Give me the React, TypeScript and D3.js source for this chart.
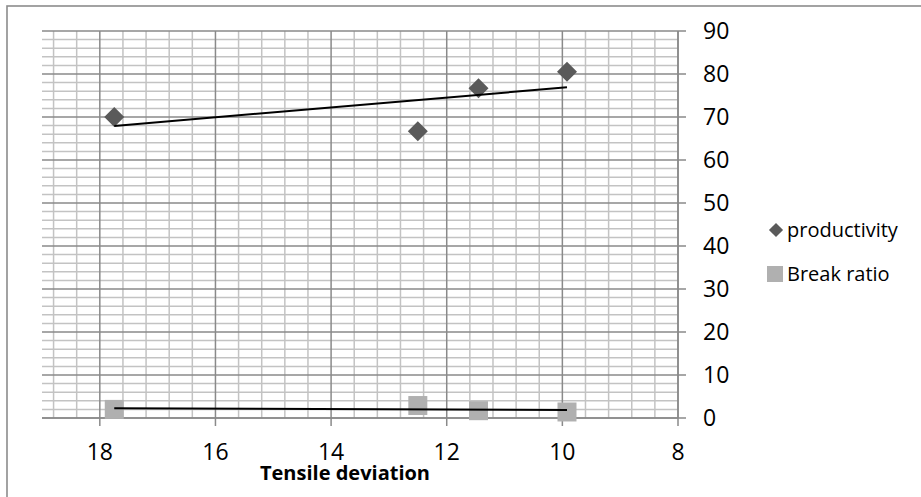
import React from "react";
import * as d3 from "d3";

const tensileDeviation = [17.75, 12.5, 11.45, 9.92];
const productivity = [70, 66.7, 76.7, 80.5];
const breakRatio = [2.0, 2.9, 1.7, 1.4];
const xTicks = [18, 16, 14, 12, 10, 8];
const yTicks = [0, 10, 20, 30, 40, 50, 60, 70, 80, 90];
const seriesNames = ["productivity", "Break ratio"];

const W = 921;
const H = 497;
const FONT = "'Open Sans', 'Liberation Sans', sans-serif";

function regression(xs: number[], ys: number[]) {
  const mx = d3.mean(xs) as number;
  const my = d3.mean(ys) as number;
  let sxy = 0;
  let sxx = 0;
  xs.forEach((x, i) => {
    sxy += (x - mx) * (ys[i] - my);
    sxx += (x - mx) * (x - mx);
  });
  const slope = sxy / sxx;
  return (x: number) => my + slope * (x - mx);
}

export default function App() {
  const left = 42;
  const right = 678;
  const top = 31;
  const bottom = 418;
  const x = d3.scaleLinear().domain([19, 8]).range([left, right]);
  const y = d3.scaleLinear().domain([0, 90]).range([bottom, top]);

  const minorX: number[] = [];
  for (let k = 0; k <= 27; k++) {
    const v = +(8 + 0.4 * k).toFixed(2);
    if (v <= 19 && Math.abs(v / 2 - Math.round(v / 2)) > 1e-6) minorX.push(v);
  }
  const minorY: number[] = [];
  for (let v = 0; v <= 90; v += 2) if (v % 10 !== 0) minorY.push(v);

  const xMin = d3.min(tensileDeviation) as number;
  const xMax = d3.max(tensileDeviation) as number;
  const fP = regression(tensileDeviation, productivity);
  const fB = regression(tensileDeviation, breakRatio);
  const line = d3.line<[number, number]>().x((d) => x(d[0])).y((d) => y(d[1]));

  const diamond = d3.symbol().type(d3.symbolSquare).size(200)();
  const diamondLegend = d3.symbol().type(d3.symbolSquare).size(100)();
  const square = d3.symbol().type(d3.symbolSquare).size(19 * 19)();
  const squareLegend = d3.symbol().type(d3.symbolSquare).size(16 * 16)();

  const minorC = "#c3c3c3";
  const majorC = "#8a8a8a";

  return (
    <svg
      width={W}
      height={H}
      style={{ position: "absolute", left: 0, top: 0, background: "#fff" }}
    >
      <rect x={0} y={0} width={W} height={H} fill="#fff" />
      <rect x={7} y={6} width={W} height={H} fill="none" stroke="#8c8c8c" strokeWidth={1.6} />

      {/* minor grid */}
      {minorY.map((v) => (
        <line key={"my" + v} x1={left} x2={right} y1={y(v)} y2={y(v)} stroke={minorC} strokeWidth={1.5} />
      ))}
      {minorX.map((v) => (
        <line key={"mx" + v} x1={x(v)} x2={x(v)} y1={top} y2={bottom} stroke={minorC} strokeWidth={1.5} />
      ))}
      {/* major grid */}
      {yTicks.map((v) => (
        <line key={"gy" + v} x1={left} x2={right + 8} y1={y(v)} y2={y(v)} stroke={majorC} strokeWidth={1.5} />
      ))}
      {xTicks.map((v) => (
        <line key={"gx" + v} x1={x(v)} x2={x(v)} y1={top} y2={bottom + 8} stroke={majorC} strokeWidth={1.5} />
      ))}

      {/* axes lines */}
      <line x1={left} x2={right} y1={bottom} y2={bottom} stroke={majorC} strokeWidth={1.5} />
      <line x1={right} x2={right} y1={top} y2={bottom} stroke={majorC} strokeWidth={1.5} />

      {/* tick labels */}
      {yTicks.map((v) => (
        <text key={"ty" + v} x={703} y={y(v)} dy="0.36em" fontFamily={FONT} fontSize={23} fill="#000">
          {v}
        </text>
      ))}
      {xTicks.map((v) => (
        <text key={"tx" + v} x={x(v)} y={460} textAnchor="middle" fontFamily={FONT} fontSize={23} fill="#000">
          {v}
        </text>
      ))}
      <text x={345} y={480} textAnchor="middle" fontFamily={FONT} fontWeight="bold" fontSize={20} fill="#000">
        Tensile deviation
      </text>

      {/* markers */}
      {tensileDeviation.map((v, i) => (
        <path
          key={"b" + i}
          d={square as string}
          transform={`translate(${x(v)},${y(breakRatio[i])})`}
          fill="#b0b0b0"
        />
      ))}
      {tensileDeviation.map((v, i) => (
        <path
          key={"p" + i}
          d={diamond as string}
          transform={`translate(${x(v)},${y(productivity[i])}) rotate(45)`}
          fill="#5a5a5a"
        />
      ))}

      {/* trendlines */}
      <path d={line([[xMin, fP(xMin)], [xMax, fP(xMax)]]) as string} stroke="#000" strokeWidth={2} fill="none" />
      <path d={line([[xMin, fB(xMin)], [xMax, fB(xMax)]]) as string} stroke="#000" strokeWidth={2} fill="none" />

      {/* legend */}
      <path d={diamondLegend as string} transform="translate(776,230) rotate(45)" fill="#5a5a5a" />
      <text x={787} y={237} fontFamily={FONT} fontSize={20} fill="#000">
        {seriesNames[0]}
      </text>
      <path d={squareLegend as string} transform="translate(775,274)" fill="#b0b0b0" />
      <text x={787} y={281} fontFamily={FONT} fontSize={20} fill="#000">
        {seriesNames[1]}
      </text>
    </svg>
  );
}
